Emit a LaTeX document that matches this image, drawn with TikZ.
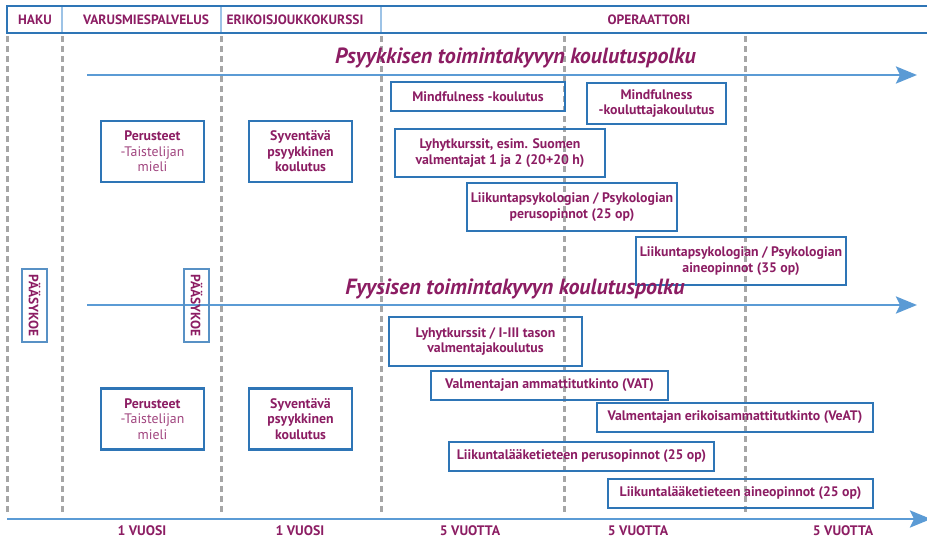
\documentclass[tikz,border=0pt]{standalone}
\usepackage{fontspec}
\setmainfont{PT Sans}
\usetikzlibrary{arrows.meta}

\definecolor{purp}{HTML}{8C1D63}
\definecolor{lightpurp}{HTML}{A0447E}
\definecolor{boxblue}{HTML}{2E75B6}
\definecolor{pathblue}{HTML}{5B9BD5}
\definecolor{sepblue}{HTML}{9DC3E6}
\definecolor{dashgray}{HTML}{A6A6A6}

\tikzset{
	course/.style={draw=boxblue, line width=1.3pt, text=purp, align=center,
		inner sep=0pt, font=\bfseries\fontsize{13.8}{15.5}\selectfont},
	basebox/.style={course, line width=2.2pt, minimum width=103, minimum height=61},
	phasehead/.style={text=purp, font=\bfseries\fontsize{13.5}{15}\selectfont},
	pathtitle/.style={text=purp, font=\bfseries\itshape\fontsize{22}{24}\selectfont},
	pathline/.style={draw=pathblue, line width=2.8pt,
		-{Stealth[length=21pt,width=17pt,inset=4pt]}},
	phaseline/.style={draw=dashgray, line width=3pt, dash pattern=on 6pt off 4pt},
	entrytest/.style={draw=boxblue!80, line width=1.1pt, rotate=-90, minimum width=73,
		minimum height=25, inner sep=0pt, text=purp,
		font=\bfseries\fontsize{13.5}{15}\selectfont},
	duration/.style={text=purp, font=\bfseries\fontsize{13.8}{15}\selectfont},
}

\begin{document}
\begin{tikzpicture}[x=1pt, y=-1pt]
	
	\useasboundingbox (0,0) rectangle (927,538);
	
	% phases
	\foreach \x in {7,62,221,381,564,745}
	\draw[phaseline] (\x,36) -- (\x,515);
	
	\draw[boxblue, line width=2.2pt] (927,6) -- (7,6) -- (7,33) -- (927,33);
	\foreach \x in {62,221,381}
	\draw[sepblue, line width=1.4pt] (\x,7) -- (\x,32);
	
	\node[phasehead] (haku) at (35,19.5) {HAKU};
	\node[phasehead] (varus) at (146,19.5) {VARUSMIESPALVELUS};
	\node[phasehead] (erikois) at (295,19.5) {ERIKOISJOUKKOKURSSI};
	\node[phasehead] (operaattori) at (649,19.5) {OPERAATTORI};
	
	% psyykkinen polku
	\coordinate (psyStart) at (87,75);
	\coordinate (psyEnd) at (917,75);
	\draw[pathline] (psyStart) -- (psyEnd);
	\node[pathtitle] (psyTitle) at (515.5,58) {Psyykkisen toimintakyvyn koulutuspolku};
	
	\node[basebox] (psyBasics) at (152.5,151.5)
	{Perusteet\\\textcolor{lightpurp}{\mdseries -Taistelijan}\\\textcolor{lightpurp}{\mdseries mieli}};
	\node[basebox] (psyDeep) at (300.5,151.5) {Syventävä\\psyykkinen\\koulutus};
	
	\node[course, minimum width=174, minimum height=29] (mindCourse) at (478,96.5)
	{Mindfulness -koulutus};
	\node[course, minimum width=139, minimum height=41] (mindTrainer) at (656.5,103.5)
	{Mindfulness\\-kouluttajakoulutus};
	\node[course, minimum width=210, minimum height=48] (psyShort) at (500,153)
	{Lyhytkurssit, esim. Suomen\\valmentajat 1 ja 2 (20+20 h)};
	\node[course, minimum width=210, minimum height=48] (psyStudyBasic) at (572,207)
	{Liikuntapsykologian / Psykologian\\perusopinnot (25 op)};
	\node[course, minimum width=210, minimum height=48] (psyStudyAdv) at (741,261)
	{Liikuntapsykologian / Psykologian\\aineopinnot (35 op)};
	
	% fyysinen polku
	\coordinate (fysStart) at (87,305);
	\coordinate (fysEnd) at (917,305);
	\draw[pathline] (fysStart) -- (fysEnd);
	\node[pathtitle] (fysTitle) at (515,289) {Fyysisen toimintakyvyn koulutuspolku};
	
	\node[entrytest] (testHaku) at (34.5,305.5) {PÄÄSYKOE};
	\node[entrytest] (testVarus) at (196.5,305.5) {PÄÄSYKOE};
	
	\node[basebox] (fysBasics) at (152.5,419)
	{Perusteet\\\textcolor{lightpurp}{\mdseries -Taistelijan}\\\textcolor{lightpurp}{\mdseries mieli}};
	\node[basebox] (fysDeep) at (300.5,419) {Syventävä\\psyykkinen\\koulutus};
	
	\node[course, minimum width=193, minimum height=49] (fysShort) at (485.5,341.5)
	{Lyhytkurssit / I-III tason\\valmentajakoulutus};
	\node[course, minimum width=237, minimum height=29] (vat) at (549.5,385.5)
	{Valmentajan ammattitutkinto (VAT)};
	\node[course, minimum width=276, minimum height=29] (veat) at (735,417.5)
	{Valmentajan erikoisammattitutkinto (VeAT)};
	\node[course, minimum width=265, minimum height=29] (medBasic) at (581.5,456.5)
	{Liikuntalääketieteen perusopinnot (25 op)};
	\node[course, minimum width=265, minimum height=29] (medAdv) at (740.5,493.5)
	{Liikuntalääketieteen aineopinnot (25 op)};
	
	% aikajana
	\coordinate (timeStart) at (7,519);
	\coordinate (timeEnd) at (931,519);
	\draw[pathline] (timeStart) -- (timeEnd);
	
	\node[duration] (durVarus) at (142,530.5) {1 VUOSI};
	\node[duration] (durErikois) at (300,530.5) {1 VUOSI};
	\node[duration] (durOpA) at (470,530.5) {5 VUOTTA};
	\node[duration] (durOpB) at (638,530.5) {5 VUOTTA};
	\node[duration] (durOpC) at (843,530.5) {5 VUOTTA};
	
\end{tikzpicture}
\end{document}
